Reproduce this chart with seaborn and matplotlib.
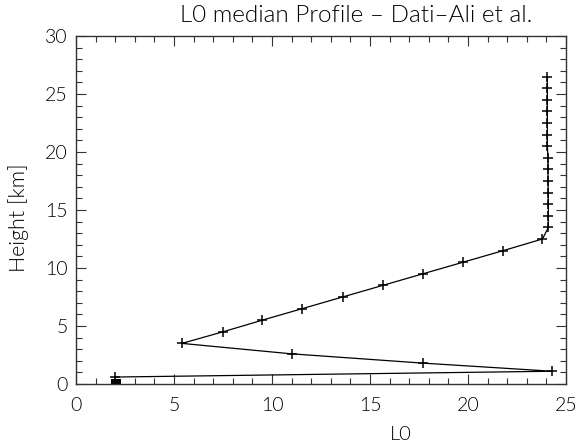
import matplotlib
matplotlib.use("Agg")
import matplotlib.pyplot as plt
import seaborn as sns
import numpy as np
import pandas as pd
from matplotlib.ticker import MultipleLocator

# Data
heights = [0.6, 1.1, 1.8, 2.6, 3.5, 4.5, 5.5, 6.5, 7.5, 8.5, 9.5, 10.5, 11.5, 12.5,
           13.5, 14.5, 15.5, 16.5, 17.5, 18.5, 19.5, 20.5, 21.5, 22.5, 23.5, 24.5, 25.5, 26.5]
l0_values = [2.0, 24.3, 17.7, 11.0, 5.4, 7.5, 9.5, 11.55, 13.6, 15.65, 17.7, 19.75, 21.8, 23.8,
             24.1, 24.1, 24.1, 24.1, 24.08, 24.08, 24.08, 24.05, 24.05, 24.05, 24.05, 24.05, 24.05, 24.05]
ground_l0 = [2.05]
ground_h = [0.0]

title = "L0 median Profile \u2013 Dati\u2013Ali et al."
xlabel = "L0"
ylabel = "Height [km]"

sns.set_style("ticks")
plt.rcParams['font.family'] = ['Lato', 'DejaVu Sans']
plt.rcParams['text.color'] = 'black'
plt.rcParams['xtick.labelcolor'] = 'black'
plt.rcParams['ytick.labelcolor'] = 'black'

W = 300  # light weight

fig = plt.figure(figsize=(5.77, 4.44), dpi=100)
ax = fig.add_axes([76/577, 1-384/444, (566-76)/577, (384-36)/444])

df = pd.DataFrame({"L0": l0_values, "h": heights})
sns.lineplot(data=df, x="L0", y="h", sort=False, estimator=None, ax=ax,
             color="black", linewidth=0.9, marker="+", markersize=7,
             markeredgewidth=1.1, markeredgecolor="black")
sns.scatterplot(x=ground_l0, y=ground_h, ax=ax, marker="s", s=45, color="black",
                edgecolor="black", linewidth=0, clip_on=True)

ax.set_xlim(0, 25)
ax.set_ylim(0, 30)
ax.xaxis.set_major_locator(MultipleLocator(5))
ax.xaxis.set_minor_locator(MultipleLocator(1))
ax.yaxis.set_major_locator(MultipleLocator(5))
ax.yaxis.set_minor_locator(MultipleLocator(1))
ax.tick_params(which="both", direction="in", top=True, right=True, color="#333333", width=0.8)
ax.tick_params(which="major", length=7, labelsize=14, pad=6, labelcolor="black")
ax.tick_params(axis="x", which="major", pad=9)
ax.tick_params(which="minor", length=4)
for lab in ax.get_xticklabels() + ax.get_yticklabels():
    lab.set_fontweight(W)
for s in ax.spines.values():
    s.set_linewidth(1.0)
    s.set_color("#333333")
ax.set_xlabel("")
ax.set_ylabel("")

fig.text(356/577, 1-15/444, title, ha="center", va="center", fontsize=17.5, fontweight=W, color="black")
fig.text(401/577, 1-434/444, xlabel, ha="center", va="center", fontsize=14.5, fontweight=W, color="black")
fig.text(19/577, 1-218/444, ylabel, ha="center", va="center", rotation=90, fontsize=15.5, fontweight=W, color="black")

fig.savefig("out.png", dpi=100, facecolor="white")
